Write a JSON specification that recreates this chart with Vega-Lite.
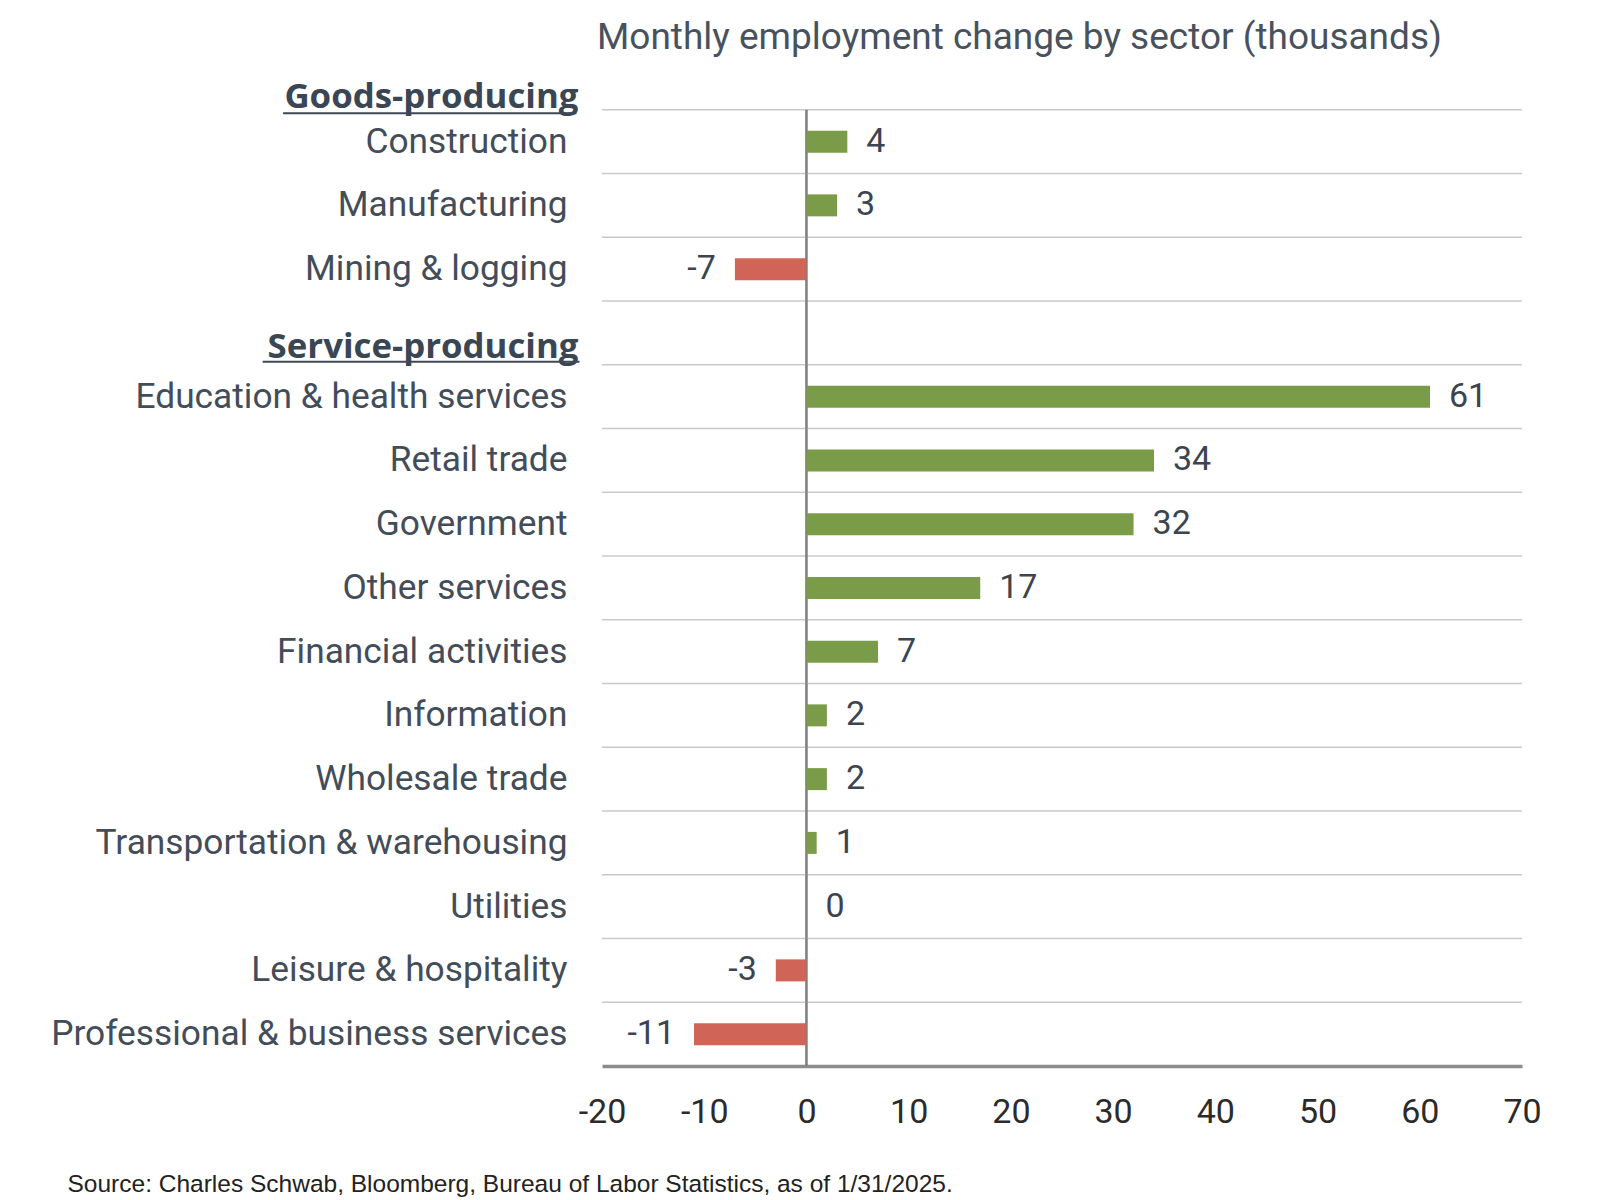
{
  "$schema": "https://vega.github.io/schema/vega-lite/v6.json",
  "width": 920,
  "height": 1020,
  "autosize": {"type": "none"},
  "padding": {"left": 602, "top": 46, "right": 78, "bottom": 134},
  "background": "#ffffff",
  "title": {
    "text": "Monthly employment change by sector (thousands)",
    "anchor": "start",
    "frame": "group",
    "font": "Roboto",
    "fontSize": 37,
    "fontWeight": "normal",
    "color": "#48525e",
    "baseline": "middle",
    "offset": 7,
    "dx": -5,
    "dy": 36
  },
  "data": {
    "values": [
      {"sector": "Goods-producing", "value": null},
      {"sector": "Construction", "value": 4},
      {"sector": "Manufacturing", "value": 3},
      {"sector": "Mining & logging", "value": -7},
      {"sector": "Service-producing", "value": null},
      {"sector": "Education & health services", "value": 61},
      {"sector": "Retail trade", "value": 34},
      {"sector": "Government", "value": 32},
      {"sector": "Other services", "value": 17},
      {"sector": "Financial activities", "value": 7},
      {"sector": "Information", "value": 2},
      {"sector": "Wholesale trade", "value": 2},
      {"sector": "Transportation & warehousing", "value": 1},
      {"sector": "Utilities", "value": 0},
      {"sector": "Leisure & hospitality", "value": -3},
      {"sector": "Professional & business services", "value": -11}
    ]
  },
  "encoding": {
    "y": {
      "field": "sector",
      "type": "nominal",
      "sort": null,
      "scale": {
        "domain": ["Goods-producing", "Construction", "Manufacturing", "Mining & logging", "Service-producing", "Education & health services", "Retail trade", "Government", "Other services", "Financial activities", "Information", "Wholesale trade", "Transportation & warehousing", "Utilities", "Leisure & hospitality", "Professional & business services"],
        "paddingInner": 0,
        "paddingOuter": 0
      },
      "axis": {
        "title": null,
        "domain": false,
        "ticks": false,
        "grid": false,
        "labelLimit": 700,
        "labelAlign": "right",
        "labelBaseline": "middle",
        "labelColor": {"condition": {"test": "indexof(['Goods-producing','Service-producing'], datum.value) >= 0", "value": "#3a4654"}, "value": "#434d59"},
        "labelFont": {"condition": {"test": "indexof(['Goods-producing','Service-producing'], datum.value) >= 0", "value": "Open Sans"}, "value": "Roboto"},
        "labelFontWeight": {"condition": {"test": "indexof(['Goods-producing','Service-producing'], datum.value) >= 0", "value": "bold"}, "value": "normal"},
        "labelFontSize": {"condition": {"test": "indexof(['Goods-producing','Service-producing'], datum.value) >= 0", "value": 34.8}, "value": 35.3},
        "labelOffset": {"condition": [{"test": "datum.value == 'Goods-producing'", "value": 20}, {"test": "datum.value == 'Service-producing'", "value": 15}], "value": 0},
        "labelPadding": {"condition": {"test": "indexof(['Goods-producing','Service-producing'], datum.value) >= 0", "value": 24}, "value": 35}
      }
    }
  },
  "layer": [
    {
      "transform": [{"filter": "datum.sector != 'Goods-producing'"}],
      "mark": {"type": "rule", "color": "#c9c9c9", "strokeWidth": 1.6},
      "encoding": {
        "y": {"field": "sector", "type": "nominal", "sort": null, "bandPosition": 0}
      }
    },
    {
      "transform": [{"filter": "datum.sector != 'Goods-producing'"}],
      "mark": {"type": "rect", "fill": null, "stroke": "#7d7d7d", "strokeWidth": 2.5},
      "encoding": {
        "x": {"datum": 0, "type": "quantitative"},
        "x2": {"datum": 0}
      }
    },
    {
      "transform": [{"filter": "datum.sector == 'Goods-producing'"}],
      "mark": {"type": "rule", "color": "#3d4956", "strokeWidth": 2, "yOffset": 35.4},
      "encoding": {
        "x": {"datum": -51.2, "type": "quantitative"},
        "x2": {"datum": -22.5}
      }
    },
    {
      "transform": [{"filter": "datum.sector == 'Service-producing'"}],
      "mark": {"type": "rule", "color": "#3d4956", "strokeWidth": 2, "yOffset": 28.8},
      "encoding": {
        "x": {"datum": -53.2, "type": "quantitative"},
        "x2": {"datum": -22.2}
      }
    },
    {
      "transform": [{"filter": "isValid(datum.value)"}],
      "mark": {"type": "bar", "height": 22},
      "encoding": {
        "x": {
          "field": "value",
          "type": "quantitative",
          "scale": {"domain": [-20, 70], "nice": false, "zero": false},
          "axis": {
            "values": [-20, -10, 0, 10, 20, 30, 40, 50, 60, 70],
            "grid": false,
            "ticks": false,
            "domainColor": "#8c8c8c",
            "domainWidth": 3.5,
            "labelFont": "Roboto",
            "labelFontSize": 34,
            "labelColor": "#2b2b2b",
            "labelBaseline": "middle",
            "labelPadding": 46,
            "labelFlush": false,
            "labelOverlap": false,
            "title": "Source: Charles Schwab, Bloomberg, Bureau of Labor Statistics, as of 1/31/2025.",
            "titleFont": "Liberation Sans",
            "titleFontSize": 24.5,
            "titleFontWeight": "normal",
            "titleColor": "#222222",
            "titleAlign": "left",
            "titleAnchor": "start",
            "titleBaseline": "middle",
            "titleX": -535,
            "titleY": 118
          }
        },
        "color": {"condition": {"test": "datum.value < 0", "value": "#cf6457"}, "value": "#7a9c48"}
      }
    },
    {
      "transform": [{"filter": "isValid(datum.value) && datum.value >= 0"}],
      "mark": {"type": "text", "align": "left", "baseline": "middle", "dx": 19, "font": "Roboto", "fontSize": 34, "color": "#3b4450"},
      "encoding": {
        "x": {"field": "value", "type": "quantitative"},
        "text": {"field": "value", "type": "quantitative"}
      }
    },
    {
      "transform": [{"filter": "isValid(datum.value) && datum.value < 0"}],
      "mark": {"type": "text", "align": "right", "baseline": "middle", "dx": -19, "font": "Roboto", "fontSize": 34, "color": "#3b4450"},
      "encoding": {
        "x": {"field": "value", "type": "quantitative"},
        "text": {"field": "value", "type": "quantitative"}
      }
    }
  ],
  "config": {
    "view": {"stroke": null},
    "locale": {"number": {"decimal": ".", "thousands": ",", "grouping": [3], "currency": ["$", ""], "minus": "-"}}
  }
}
